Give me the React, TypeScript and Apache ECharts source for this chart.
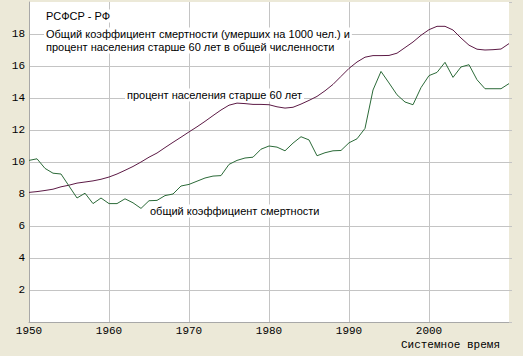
import React, { useEffect, useRef } from "react";
import * as echarts from "echarts";

const years = [
  1950, 1951, 1952, 1953, 1954, 1955, 1956, 1957, 1958, 1959,
  1960, 1961, 1962, 1963, 1964, 1965, 1966, 1967, 1968, 1969,
  1970, 1971, 1972, 1973, 1974, 1975, 1976, 1977, 1978, 1979,
  1980, 1981, 1982, 1983, 1984, 1985, 1986, 1987, 1988, 1989,
  1990, 1991, 1992, 1993, 1994, 1995, 1996, 1997, 1998, 1999,
  2000, 2001, 2002, 2003, 2004, 2005, 2006, 2007, 2008, 2009, 2010,
];

const deathRate = [
  10.1, 10.2, 9.6, 9.3, 9.25, 8.5, 7.75, 8.05, 7.4, 7.75,
  7.4, 7.4, 7.7, 7.45, 7.1, 7.58, 7.6, 7.9, 8.0, 8.5,
  8.6, 8.8, 9.0, 9.12, 9.15, 9.85, 10.1, 10.25, 10.3, 10.8,
  11.0, 10.93, 10.7, 11.18, 11.58, 11.38, 10.39, 10.58, 10.7, 10.72,
  11.2, 11.45, 12.1, 14.5, 15.66, 14.94, 14.2, 13.75, 13.58, 14.65,
  15.4, 15.6, 16.23, 15.29, 15.94, 16.08, 15.14, 14.58, 14.58, 14.58, 14.9,
];

const over60 = [
  8.1, 8.15, 8.22, 8.3, 8.45, 8.55, 8.68, 8.75, 8.82, 8.92,
  9.06, 9.25, 9.48, 9.72, 10.0, 10.3, 10.56, 10.9, 11.23, 11.55,
  11.88, 12.2, 12.54, 12.9, 13.25, 13.55, 13.68, 13.65, 13.6, 13.6,
  13.58, 13.45, 13.37, 13.42, 13.62, 13.85, 14.1, 14.45, 14.85, 15.35,
  15.85, 16.25, 16.55, 16.65, 16.65, 16.66, 16.8, 17.15, 17.5, 17.92,
  18.27, 18.48, 18.48, 18.25, 17.75, 17.3, 17.05, 17.0, 17.02, 17.06, 17.4,
];

const titleLines = [
  "РСФСР - РФ",
  "Общий коэффициент смертности (умерших на 1000 чел.) и",
  "процент населения старше 60 лет в общей численности",
];
const over60Label = "процент населения старше 60 лет";
const deathLabel = "общий коэффициент смертности";
const xAxisTitle = "Системное время";

const GRID = "#c4c4c4";
const SANS = "Liberation Sans, Arial, sans-serif";
const MONO = "Liberation Mono, Courier New, monospace";

export default function App() {
  const ref = useRef<HTMLDivElement>(null);
  useEffect(() => {
    document.body.style.margin = "0";
    const chart = echarts.init(ref.current!, null, { renderer: "svg" });
    const textEl = (text: string, x: number, y: number, align = "left") => ({
      type: "text",
      x,
      y,
      z: 100,
      style: {
        text,
        fill: "#000",
        font: `11px ${SANS}`,
        verticalAlign: "middle",
        align,
        backgroundColor: "#fff",
        padding: [1, 2],
      },
    });
    chart.setOption({
      animation: false,
      backgroundColor: "#ece9d8",
      grid: {
        left: 29,
        top: 2,
        width: 480,
        height: 320,
        show: true,
        backgroundColor: "#fff",
        borderWidth: 0,
      },
      xAxis: {
        type: "value",
        min: 1950,
        max: 2010,
        interval: 10,
        axisLine: { show: true, lineStyle: { color: "#a8a8a8" } },
        axisTick: { show: false },
        axisLabel: {
          fontFamily: MONO,
          fontSize: 11,
          color: "#000",
          margin: 3,
          formatter: (v: number) => (v === 2010 ? "" : String(v)),
        },
        splitLine: {
          show: true,
          lineStyle: {
            color: [
              "rgba(0,0,0,0)", GRID, GRID, GRID, GRID, GRID, "rgba(0,0,0,0)",
            ],
          },
        },
      },
      yAxis: [
        {
          type: "value",
          min: 0,
          max: 20,
          interval: 2,
          axisLine: { show: true, lineStyle: { color: "#a8a8a8" } },
          axisTick: { show: false },
          axisLabel: {
            fontFamily: MONO,
            fontSize: 11,
            color: "#000",
            margin: 4,
            formatter: (v: number) => (v === 0 || v === 20 ? "" : String(v)),
          },
          splitLine: {
            show: true,
            lineStyle: {
              color: [
                "rgba(0,0,0,0)", GRID, GRID, GRID, GRID, GRID,
                GRID, GRID, GRID, GRID, "rgba(0,0,0,0)",
              ],
            },
          },
        },
        {
          type: "value",
          position: "right",
          min: 0,
          max: 20,
          interval: 2,
          axisLine: { show: false },
          axisTick: {
            show: true,
            length: 3,
            lineStyle: { color: GRID },
          },
          axisLabel: { show: false },
          splitLine: { show: false },
        },
      ],
      series: [
        {
          type: "line",
          name: "over60",
          data: years.map((y, i) => [y, over60[i]]),
          showSymbol: false,
          symbol: "none",
          lineStyle: { width: 1, color: "#5c1a45" },
          z: 3,
        },
        {
          type: "line",
          name: "death",
          data: years.map((y, i) => [y, deathRate[i]]),
          showSymbol: false,
          symbol: "none",
          lineStyle: { width: 1, color: "#2b6a38" },
          z: 3,
        },
      ],
      graphic: [
        textEl(titleLines[0], 44, 16),
        textEl(titleLines[1], 44, 34),
        textEl(titleLines[2], 44, 47),
        textEl(over60Label, 125, 95),
        textEl(deathLabel, 148, 211),
        {
          type: "text",
          x: 500,
          y: 345,
          style: {
            text: xAxisTitle,
            fill: "#000",
            font: `11px ${MONO}`,
            verticalAlign: "middle",
            align: "right",
          },
        },
      ],
    });
    return () => chart.dispose();
  }, []);
  return (
    <div
      ref={ref}
      style={{
        position: "absolute",
        left: 0,
        top: 0,
        width: 523,
        height: 356,
        background: "#ece9d8",
      }}
    />
  );
}
